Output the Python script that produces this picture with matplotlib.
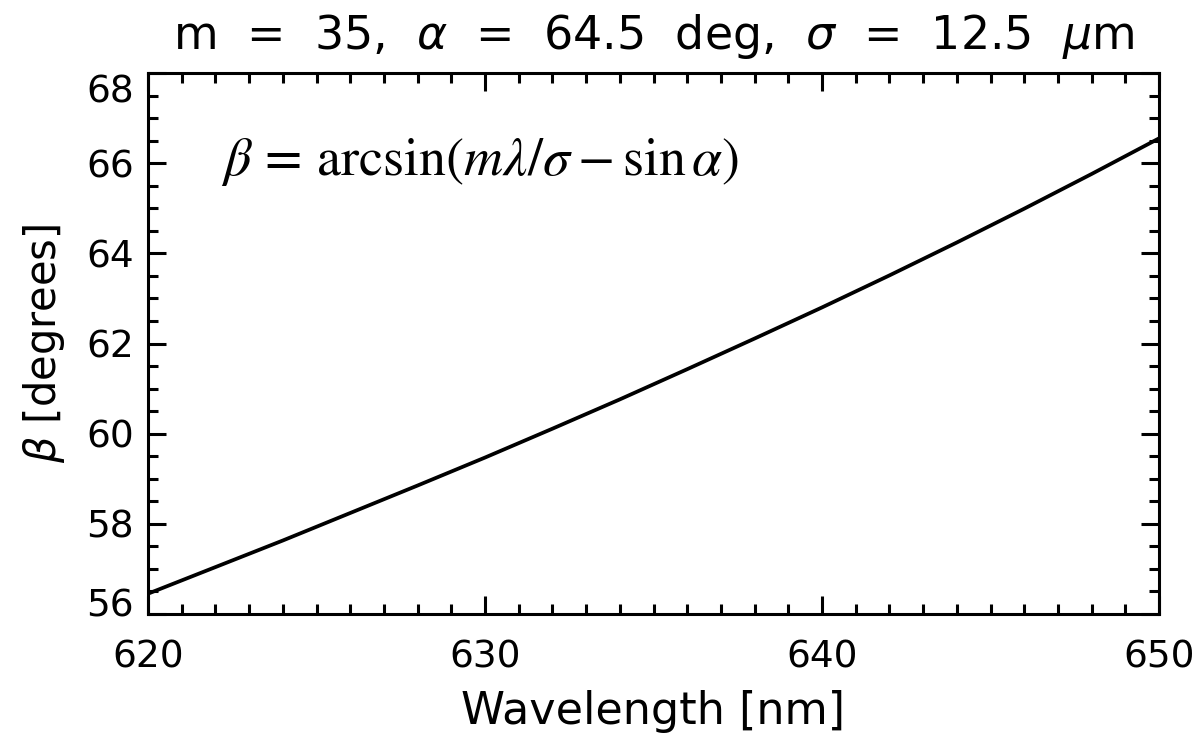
import matplotlib
matplotlib.use("Agg")
import matplotlib.pyplot as plt
import matplotlib.transforms as mtransforms
from matplotlib.ticker import MultipleLocator

# Data
wavelength_nm = [620, 622, 624, 626, 628, 630, 632, 634, 636, 638, 640,
                 642, 644, 646, 648, 650]
beta_deg = [56.45, 57.04, 57.63, 58.24, 58.85, 59.47, 60.11, 60.76, 61.43,
            62.11, 62.80, 63.51, 64.24, 64.99, 65.76, 66.55]
x_ticks = [620, 630, 640, 650]
y_ticks = [56, 58, 60, 62, 64, 66, 68]

title_text = r"m  =  35,  $\alpha$  =  64.5  deg,  $\sigma$  =  12.5  $\mu$m"
formula = r"$\beta\,=\,\mathrm{arcsin}(m\lambda/\sigma - \mathrm{sin}\,\alpha)$"

plt.rcParams['font.family'] = ['DejaVu Sans']
fig = plt.figure(figsize=(11.99, 7.37), dpi=100)
ax = fig.add_axes([148/1199, 1-614/737, (1159-148)/1199, (614-73)/737])

ax.plot(wavelength_nm, beta_deg, color='black', lw=2.7, solid_joinstyle='round')
ax.set_xlim(620, 650)
ax.set_ylim(56, 68)
ax.set_xticks(x_ticks)
ax.set_yticks(y_ticks)
ax.xaxis.set_minor_locator(MultipleLocator(1))
ax.yaxis.set_minor_locator(MultipleLocator(0.5))
for s in ax.spines.values():
    s.set_linewidth(2.2)
ax.tick_params(which='both', direction='in', top=True, right=True, width=2.2,
               labelsize=27)
ax.tick_params(which='major', length=13)
ax.tick_params(which='minor', length=7)
ax.tick_params(axis='x', pad=18)
ax.tick_params(axis='y', pad=10)

ax.set_title(title_text, fontsize=33, pad=17)
ax.set_xlabel("Wavelength [nm]", fontsize=32, labelpad=11)
ax.set_ylabel(r"$\beta$ [degrees]", fontsize=30, labelpad=14)

ax.text(0.072, 0.835, formula, transform=ax.transAxes, fontsize=39,
        math_fontfamily='stix', va='center', ha='left')

fig.canvas.draw()
ylabels = ax.get_yticklabels()
ylabels[-1].set_transform(ylabels[-1].get_transform() +
                          mtransforms.ScaledTranslation(0, -11/72, fig.dpi_scale_trans))
ylabels[0].set_transform(ylabels[0].get_transform() +
                         mtransforms.ScaledTranslation(0, 8/72, fig.dpi_scale_trans))

fig.savefig("out.png", dpi=100)
